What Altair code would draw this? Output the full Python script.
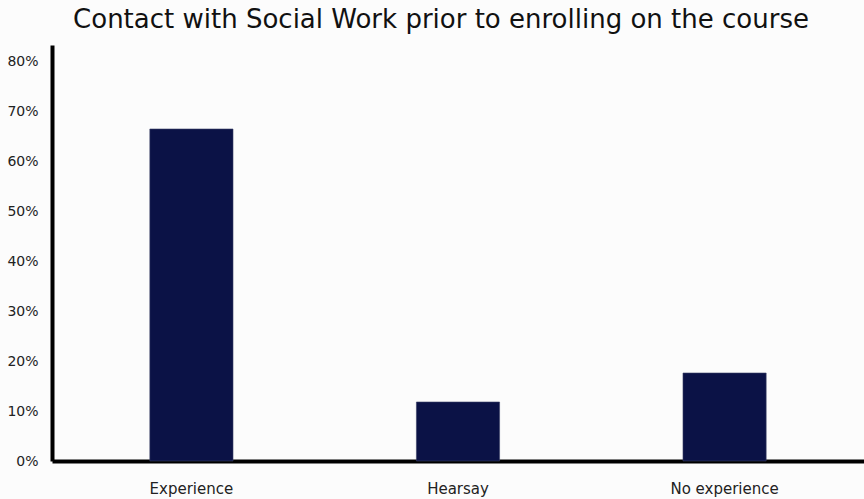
import altair as alt
import pandas as pd

categories = ["Experience", "Hearsay", "No experience"]
shares = [0.664, 0.118, 0.176]
tick_values = [0, 0.1, 0.2, 0.3, 0.4, 0.5, 0.6, 0.7, 0.8]

df = pd.DataFrame({"category": categories, "share": shares})

chart = alt.Chart(df).mark_bar(color="#0b1246", stroke="#3a3f66", strokeWidth=0.6).encode(
    x=alt.X("category:N", sort=categories, title=None,
            scale=alt.Scale(paddingInner=0.688, paddingOuter=0.367),
            axis=alt.Axis(labelAngle=0, labelFont="DejaVu Sans", labelFontSize=15,
                          labelColor="#222", ticks=False, labelPadding=20,
                          domainColor="#000", domainWidth=4)),
    y=alt.Y("share:Q", title=None,
            scale=alt.Scale(domain=[0, 0.832], nice=False),
            axis=alt.Axis(values=tick_values, format=".0%", grid=False, ticks=False,
                          labelFont="DejaVu Sans", labelFontSize=14, labelColor="#222",
                          labelPadding=14, domainColor="#000", domainWidth=4)),
).properties(
    width=812, height=416,
    title=alt.TitleParams("Contact with Social Work prior to enrolling on the course",
                          font="DejaVu Sans", fontSize=26, fontWeight="normal",
                          color="#111", anchor="middle", offset=12, dx=-17),
    autosize=alt.AutoSizeParams(type="none"),
    padding={"left": 52, "top": 45, "right": 0, "bottom": 38},
    background="#fcfcfc",
).configure_view(stroke=None)

chart.save("out.html", embed_options={"renderer": "svg", "actions": False})
